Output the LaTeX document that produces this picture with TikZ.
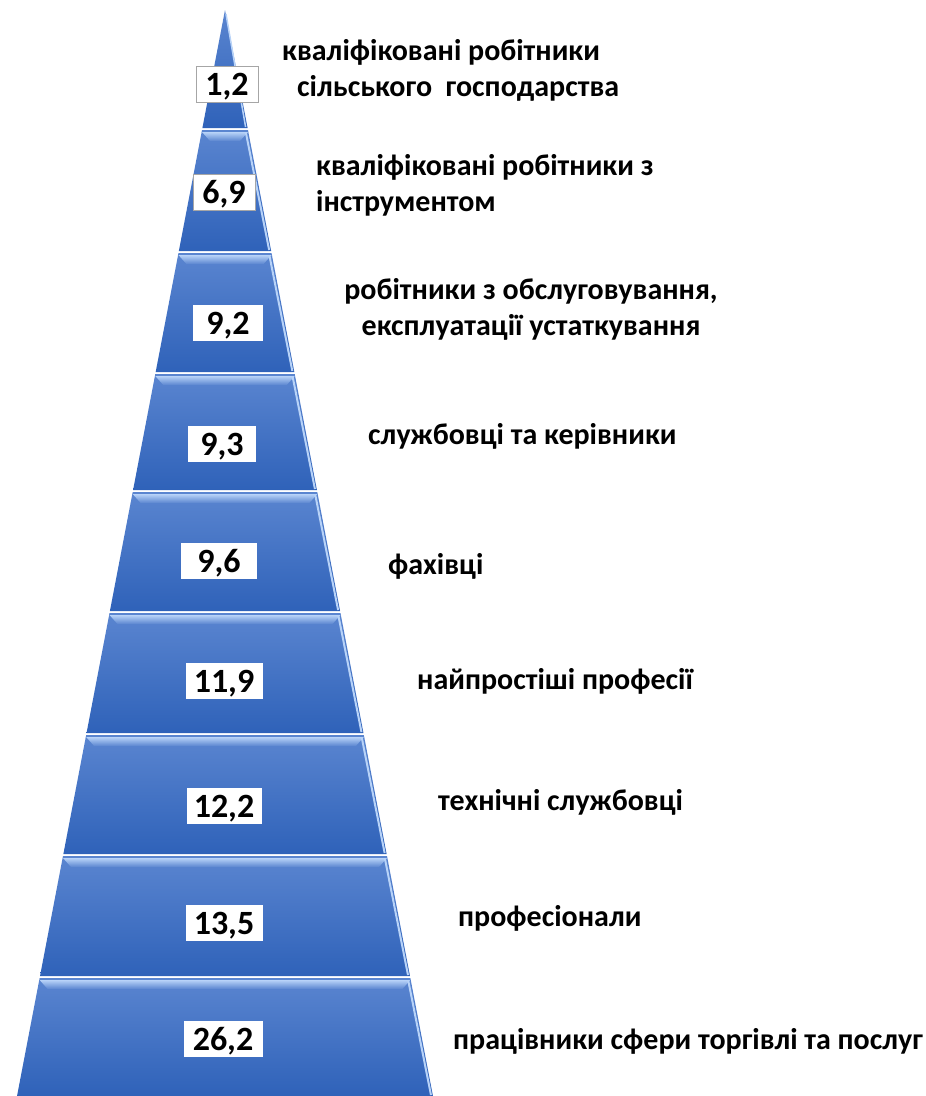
\documentclass[tikz,border=0pt]{standalone}
\usepackage{fontspec}
\setmainfont{Carlito}
\usetikzlibrary{positioning}

\definecolor{pyrtop}{HTML}{5A85D0}
\definecolor{pyrbot}{HTML}{2F62B9}
\definecolor{pyrlight}{HTML}{B8D3F8}

\begin{document}
\begin{tikzpicture}[
	x=1pt, y=-1pt,
	valbox/.style = {fill=white, inner sep=0pt, minimum height=36pt,
		text height=22pt, text depth=0pt,
		font=\fontsize{34}{34}\selectfont\bfseries},
	framed/.style = {draw=gray!70, line width=0.8pt},
	lbl/.style = {inner sep=0pt, align=left,
		font=\fontsize{30}{36}\selectfont\bfseries}
     ]
		\useasboundingbox (0,0) rectangle (926,1096);
		\def\slope{0.1915}
%
		\shade[top color=pyrtop, bottom color=pyrbot]
		(225,10) -- (225+\slope*118,128) -- (225-\slope*118,128) -- cycle;
		\draw[pyrlight, line width=1.5pt] (226,14) -- (225+\slope*118-2,127);
%
		\foreach \t/\b in {130/251, 253/372, 374/490, 492/611,
				613/733, 735/854, 856/976, 978/1096}{
			\pgfmathsetmacro\wt{\slope*(\t-10)}
			\pgfmathsetmacro\wb{\slope*(\b-10)}
			\shade[top color=pyrtop, bottom color=pyrbot]
			(225-\wt,\t) -- (225+\wt,\t) -- (225+\wb,\b) -- (225-\wb,\b) -- cycle;
			% bevel
			\shade[top color=pyrlight, bottom color=pyrtop]
			(225-\wt,\t+2) -- (225+\wt,\t+2) -- (225+\wt-8,\t+11) -- (225-\wt+8,\t+11) -- cycle;
			\draw[pyrlight, line width=2pt]
			(225+\wt-2,\t+3) -- (225+\wb-2,\b-1);
		}
%
		\node[valbox, framed, minimum width=62pt] (v1) at (227,84)   {1,2};
		\node[valbox, framed, minimum width=62pt] (v2) at (224,192)  {6,9};
		\node[valbox, minimum width=70pt] (v3) at (228,323)  {9,2};
		\node[valbox, minimum width=68pt] (v4) at (222,444)  {9,3};
		\node[valbox, minimum width=76pt] (v5) at (219,561)  {9,6};
		\node[valbox, minimum width=77pt] (v6) at (224,681)  {11,9};
		\node[valbox, minimum width=75pt] (v7) at (224,806)  {12,2};
		\node[valbox, minimum width=77pt] (v8) at (224,923)  {13,5};
		\node[valbox, minimum width=79pt] (v9) at (223,1039) {26,2};
%
		\node[lbl, anchor=west] (l1) at (282,70)
			{кваліфіковані робітники\\\hspace*{15pt}сільського\ \ господарства};
		\node[lbl, anchor=west] (l2) at (316,185)
			{кваліфіковані робітники з\\інструментом};
		\node[lbl, align=center] (l3) at (531,309)
			{робітники з обслуговування,\\експлуатації устаткування};
		\node[lbl, anchor=west] (l4) at (368,436)  {службовці та керівники};
		\node[lbl, anchor=west] (l5) at (388,566)  {фахівці};
		\node[lbl, anchor=west] (l6) at (417,681)  {найпростіші професії};
		\node[lbl, anchor=west] (l7) at (438,802)  {технічні службовці};
		\node[lbl, anchor=west] (l8) at (458,918)  {професіонали};
		\node[lbl, anchor=west] (l9) at (453,1041) {працівники сфери торгівлі та послуг};
\end{tikzpicture}
\end{document}
